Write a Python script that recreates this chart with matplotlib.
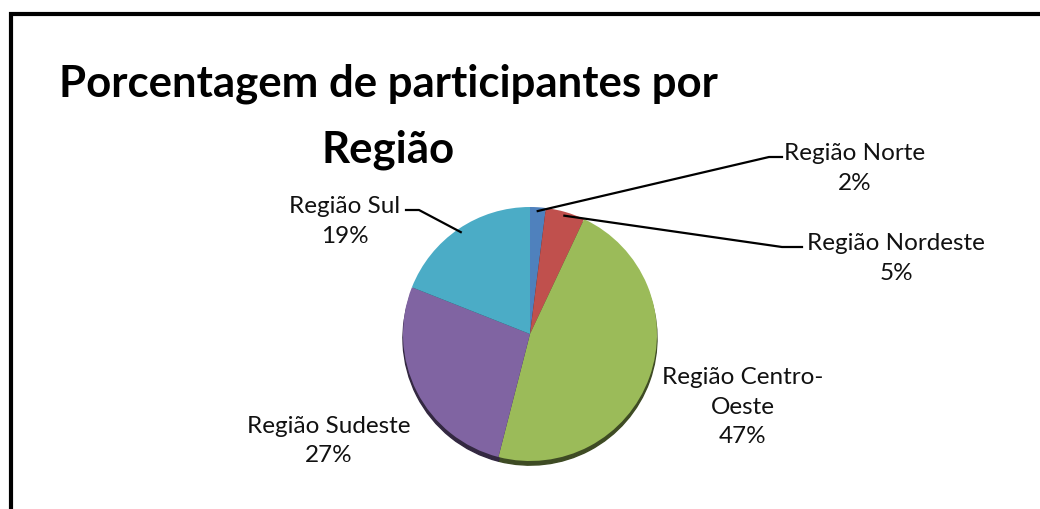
import matplotlib.pyplot as plt
from matplotlib.patches import Rectangle
import numpy as np

# dados do gráfico
regioes = ['Região Norte', 'Região Nordeste', 'Região Centro-\nOeste', 'Região Sudeste', 'Região Sul']
porcentagens = [2, 5, 47, 27, 19]
cores = ['#4F81BD', '#C0504D', '#9BBB59', '#8064A2', '#4BACC6']

plt.rcParams['font.family'] = ['Lato', 'DejaVu Sans']

fig = plt.figure(figsize=(10.4, 5.1), dpi=100)
ax = fig.add_axes([0, 0, 1, 1])

# pizza em coordenadas de pixel (y para cima)
cx, cy, r = 530, 175, 127
wedges, _ = ax.pie(porcentagens, colors=cores, startangle=90, counterclock=False,
                   center=(cx, cy), radius=r,
                   shadow={'ox': 0, 'oy': -3, 'shade': 0.6, 'alpha': 1.0})
ax.set_xlim(0, 1040)
ax.set_ylim(0, 510)
ax.set_aspect('auto')
ax.axis('off')

# posições dos rótulos e linhas de chamada
label_pos = [(855, 341.5), (896, 251.5), (743, 102.5), (329, 69), (345, 288.5)]
leaders = {0: [(769, 352), (782, 352)],
           1: [(782, 262), (802, 262)],
           4: [(419, 299), (406, 299)]}

for i, (w, nome, pct) in enumerate(zip(wedges, regioes, porcentagens)):
    tx, ty = label_pos[i]
    ax.text(tx, ty, f'{nome}\n{pct}%', ha='center', va='center',
            multialignment='center', fontsize=17.5, linespacing=1.5, color='#111111')
    if i in leaders:
        ang = np.deg2rad((w.theta1 + w.theta2) / 2)
        ex, ey = cx + r * 0.97 * np.cos(ang), cy + r * 0.97 * np.sin(ang)
        pts = [(ex, ey)] + leaders[i]
        ax.plot([p[0] for p in pts], [p[1] for p in pts], color='black', lw=1.6)

# título em duas linhas
ax.text(388, 413, 'Porcentagem de participantes por', ha='center', va='baseline',
        fontsize=31.5, fontweight='bold')
ax.text(388, 348, 'Região', ha='center', va='baseline',
        fontsize=31.5, fontweight='bold')

# moldura
fig.patches.append(Rectangle((10.5 / 1040, -0.1), 1.2, (510 - 15) / 510 + 0.1,
                             transform=fig.transFigure, fill=False,
                             edgecolor='black', lw=3))

fig.savefig('out.png', dpi=100)
